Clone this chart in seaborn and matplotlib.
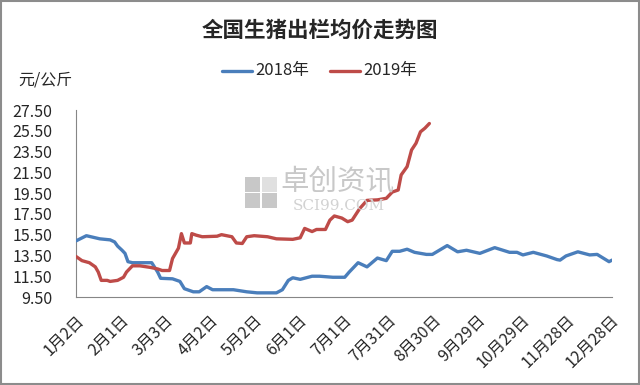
import matplotlib
matplotlib.use("Agg")
import matplotlib.pyplot as plt
import matplotlib.transforms as mtransforms
import seaborn as sns
import pandas as pd
from matplotlib.patches import Rectangle

# day offsets from Jan 2
days_2018 = [0, 7, 16, 23, 26, 28, 31, 33, 35, 38, 51, 55, 57, 65, 70, 73, 79, 83, 88, 92,
             106, 115, 122, 135, 139, 143, 146, 151, 159, 164, 173, 181, 184, 190, 196, 203,
             209, 213, 218, 223, 228, 236, 240, 250, 257, 263, 272, 282, 292, 297, 301, 308,
             317, 324, 326, 330, 338, 346, 351, 359, 361]
price_2018 = [14.9, 15.4, 15.1, 15.0, 14.8, 14.4, 14.0, 13.7, 12.9, 12.8, 12.8, 11.9, 11.3, 11.25,
              11.0, 10.3, 10.0, 10.0, 10.5, 10.2, 10.2, 10.0, 9.9, 9.9, 10.2, 11.1, 11.35, 11.2,
              11.5, 11.5, 11.4, 11.4, 11.9, 12.8, 12.4, 13.25, 13.0, 13.9, 13.9, 14.1, 13.8, 13.6,
              13.6, 14.45, 13.85, 14.0, 13.7, 14.25, 13.8, 13.8, 13.55, 13.8, 13.45, 13.1, 13.05,
              13.45, 13.85, 13.55, 13.6, 12.9, 13.05]

days_2019 = [0, 4, 9, 13, 15, 17, 21, 23, 28, 32, 34, 38, 43, 50, 55, 58, 63, 65, 69, 71, 73, 77,
             78, 81, 85, 95, 98, 105, 108, 112, 115, 120, 129, 135, 146, 151, 154, 159, 162, 168,
             171, 174, 179, 183, 186, 191, 196, 203, 209, 213, 217, 219, 223, 226, 229, 232, 235, 238]
price_2019 = [13.4, 13.0, 12.8, 12.4, 11.9, 11.1, 11.1, 11.0, 11.1, 11.4, 11.9, 12.5, 12.5, 12.35,
              12.2, 12.05, 12.05, 13.2, 14.2, 15.6, 14.7, 14.7, 15.6, 15.45, 15.3, 15.35, 15.5, 15.3,
              14.7, 14.65, 15.3, 15.4, 15.3, 15.1, 15.05, 15.2, 16.1, 15.8, 16.0, 16.0, 16.9, 17.3,
              17.1, 16.75, 16.9, 18.0, 18.8, 18.85, 19.0, 19.6, 19.8, 21.25, 22.05, 23.65, 24.3,
              25.4, 25.75, 26.2]

tick_days = [0, 30, 60, 90, 120, 150, 180, 210, 240, 270, 300, 330, 360]
tick_labels = ["1月2日", "2月1日", "3月3日", "4月2日", "5月2日", "6月1日", "7月1日",
               "7月31日", "8月30日", "9月29日", "10月29日", "11月28日", "12月28日"]
y_ticks = [9.5, 11.5, 13.5, 15.5, 17.5, 19.5, 21.5, 23.5, 25.5, 27.5]

df = pd.concat([
    pd.DataFrame({"day": days_2018, "price": price_2018, "year": "2018年"}),
    pd.DataFrame({"day": days_2019, "price": price_2019, "year": "2019年"}),
])

sns.set_style("white")
plt.rcParams["font.family"] = ["Noto Sans CJK SC", "DejaVu Sans"]

BLUE = "#4A7EBB"
RED = "#BE4B48"

fig = plt.figure(figsize=(6.4, 3.85), dpi=100)
ax = fig.add_axes([76 / 640, 88 / 385, 536 / 640, 187 / 385])

sns.lineplot(data=df, x="day", y="price", hue="year",
             palette={"2018年": BLUE, "2019年": RED},
             linewidth=2.4, ax=ax, legend=False, zorder=3)

ax.set_xlim(0, 361)
ax.set_ylim(9.5, 27.5)
ax.set_xticks(tick_days)
ax.set_xticklabels(tick_labels, rotation=45, ha="right", va="center",
                   rotation_mode="anchor", fontsize=11.5)
ax.set_yticks(y_ticks)
ax.set_yticklabels([f"{v:.2f}" for v in y_ticks], fontsize=11.5)
ax.set_xlabel("")
ax.set_ylabel("")
for s in ["top", "right"]:
    ax.spines[s].set_visible(False)
for s in ["left", "bottom"]:
    ax.spines[s].set_color("#868686")
    ax.spines[s].set_linewidth(0.8)
ax.tick_params(axis="both", direction="out", length=4, width=0.8, color="#868686")
ax.tick_params(axis="y", pad=13)
ax.tick_params(axis="x", pad=11)
shift = mtransforms.ScaledTranslation(0.06, 0, fig.dpi_scale_trans)
for lab in ax.get_xticklabels():
    lab.set_transform(lab.get_transform() + shift)

# watermark
fig.text(337 / 640, 1 - 182 / 385, "卓创资讯", fontsize=20.5, color="#c8c8c8",
         ha="center", va="center", zorder=0)
fig.text(339 / 640, 1 - 206 / 385, "SCI99.COM", fontsize=11, color="#d2d2d2",
         ha="center", va="center", family="DejaVu Serif", zorder=0)
for bx, by, fc in [(245, 177, "#c8c8c8"), (262, 177, "#e0e0e0"),
                   (245, 193, "#c8c8c8"), (262, 193, "#c8c8c8")]:
    fig.patches.append(Rectangle((bx / 640, 1 - (by + 15) / 385), 15 / 640, 15 / 385,
                                 facecolor=fc, edgecolor="none", transform=fig.transFigure,
                                 zorder=0))

fig.text(0.5, 1 - 30 / 385, "全国生猪出栏均价走势图", fontsize=15.5, fontweight="bold",
         ha="center", va="center")
fig.text(18 / 640, 1 - 80 / 385, "元/公斤", fontsize=11.5, ha="left", va="center")

# legend
fig.lines.append(plt.Line2D([222 / 640, 252 / 640], [1 - 71 / 385] * 2, color=BLUE,
                            linewidth=2.4, transform=fig.transFigure))
fig.text(255 / 640, 1 - 71 / 385, "2018年", fontsize=12, ha="left", va="center")
fig.lines.append(plt.Line2D([330 / 640, 360 / 640], [1 - 71 / 385] * 2, color=RED,
                            linewidth=2.4, transform=fig.transFigure))
fig.text(363 / 640, 1 - 71 / 385, "2019年", fontsize=12, ha="left", va="center")

fig.patches.append(Rectangle((0.002, 0.003), 0.996, 0.994, fill=False, edgecolor="#8c8c8c",
                             linewidth=1.5, transform=fig.transFigure))

fig.savefig("out.png", dpi=100)
